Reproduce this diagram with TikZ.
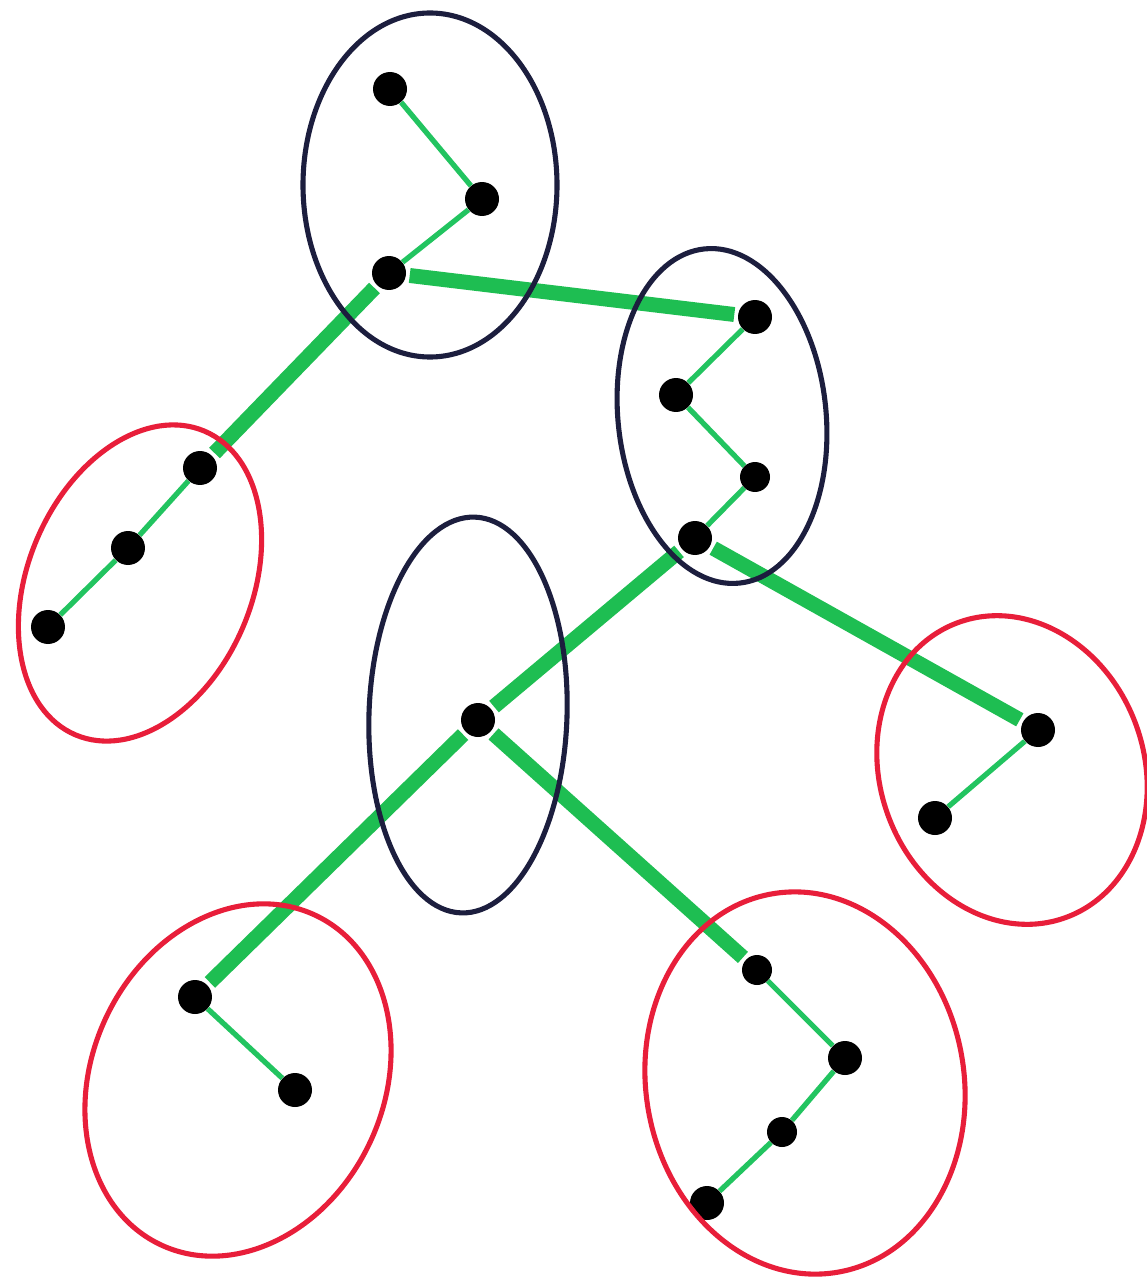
\documentclass[tikz,border=0pt]{standalone}
\begin{document}
\begin{tikzpicture}[x=0.02cm,y=-0.02cm,
  dot/.style={circle,fill=black,draw=none,inner sep=0pt,minimum size=0.68cm},
  smalldot/.style={dot,minimum size=0.6cm},
  thin/.style={draw=linkgreen,line width=3pt},
  thick/.style={draw=bridgegreen,line width=8.5pt,shorten <=2pt,shorten >=2pt},
  navyloop/.style={draw=loopnavy,line width=2.9pt},
  redloop/.style={draw=loopred,line width=2.9pt}]
\definecolor{linkgreen}{RGB}{34,196,96}
\definecolor{bridgegreen}{RGB}{30,190,82}
\definecolor{loopnavy}{RGB}{28,30,62}
\definecolor{loopred}{RGB}{232,30,58}
\useasboundingbox[fill=white] (0,0) rectangle (1146,1287);
% cluster A (top)
\node[dot] (a1) at (390,89) {};
\node[dot] (a2) at (482,199) {};
\node[dot] (a3) at (389,273) {};
% cluster B (right)
\node[dot] (b1) at (755,317) {};
\node[dot] (b2) at (676,395) {};
\node[smalldot] (b3) at (755,477) {};
\node[dot] (b4) at (695,538) {};
% cluster C (middle)
\node[dot] (c1) at (478,720) {};
% cluster D (red, top-left)
\node[dot] (d1) at (200,468) {};
\node[dot] (d2) at (128,548) {};
\node[dot] (d3) at (48,627) {};
% cluster E (red, right)
\node[dot] (e1) at (1038,730) {};
\node[dot] (e2) at (935,818) {};
% cluster F (red, bottom-left)
\node[dot] (f1) at (195,997) {};
\node[dot] (f2) at (295,1090) {};
% cluster G (red, bottom-right)
\node[smalldot] (g1) at (757,970) {};
\node[dot] (g2) at (845,1058) {};
\node[smalldot] (g3) at (782,1132) {};
\node[dot] (g4) at (707,1203) {};
% thin links
\draw[thin] (a1) -- (a2);
\draw[thin] (a2) -- (a3);
\draw[thin] (b1) -- (b2);
\draw[thin] (b2) -- (b3);
\draw[thin] (b3) -- (b4);
\draw[thin] (d1) -- (d2);
\draw[thin] (d2) -- (d3);
\draw[thin] (e1) -- (e2);
\draw[thin] (f1) -- (f2);
\draw[thin] (g1) -- (g2);
\draw[thin] (g2) -- (g3);
\draw[thin] (g3) -- (g4);
% thick links
\draw[thick] (a3) -- (b1);
\draw[thick] (a3) -- (d1);
\draw[thick] (b4) -- (c1);
\draw[thick] (b4) -- (e1);
\draw[thick] (c1) -- (f1);
\draw[thick] (c1) -- (g1);
% loops
\draw[navyloop] (430,185) ellipse [x radius=127, y radius=172];
\draw[navyloop, rotate around={6:(722,416)}] (722,416) ellipse [x radius=104, y radius=168];
\draw[navyloop, rotate around={-2:(468,715)}] (468,715) ellipse [x radius=99, y radius=198];
\draw[redloop, rotate around={-23:(140,583)}] (140,583) ellipse [x radius=112, y radius=165];
\draw[redloop, rotate around={20:(1012,770)}] (1012,770) ellipse [x radius=132, y radius=157];
\draw[redloop, rotate around={-25:(238,1080)}] (238,1080) ellipse [x radius=146, y radius=182];
\draw[redloop, rotate around={10:(805,1083)}] (805,1083) ellipse [x radius=159, y radius=192];
\end{tikzpicture}
\end{document}
